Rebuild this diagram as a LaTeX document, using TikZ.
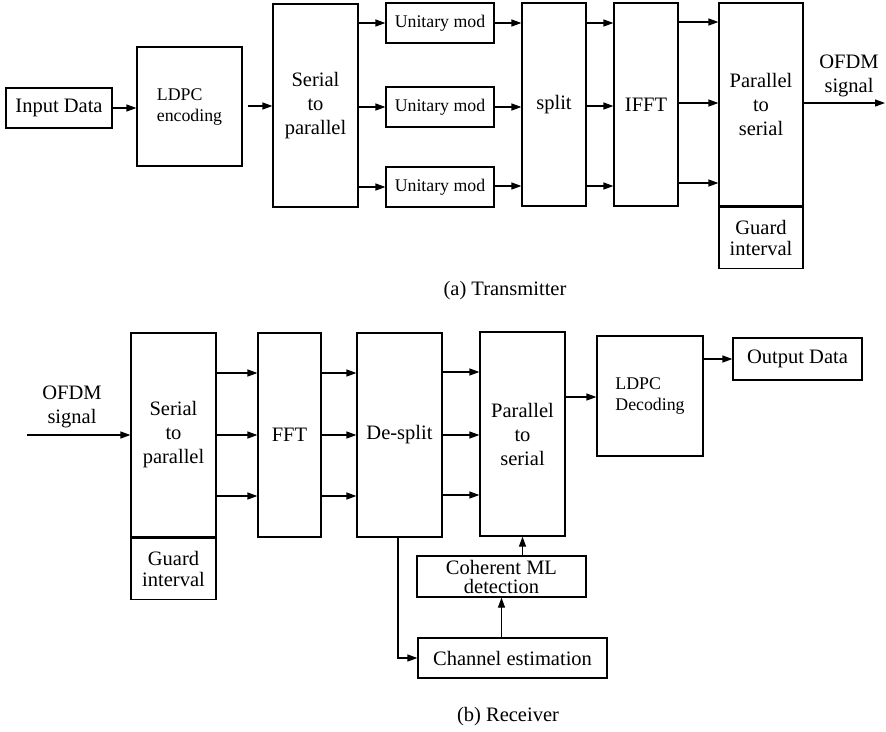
\documentclass[tikz,border=0pt]{standalone}
\usepackage{fontspec}
\setmainfont{Liberation Serif}
\usetikzlibrary{arrows.meta,calc}
\begin{document}
\begin{tikzpicture}[x=1pt,y=-1pt,
  box/.style={draw,line width=1.2pt,inner sep=0pt,align=center,font=\fontsize{20.5}{24}\selectfont},
  smallbox/.style={box,font=\fontsize{17.8}{21}\selectfont},
  lbl/.style={inner sep=0pt,align=center,font=\fontsize{20.5}{24}\selectfont},
  arr/.style={line width=1.2pt,-{Triangle[length=10pt,width=7pt]}}]
\useasboundingbox (0,0) rectangle (886,731);
% ---------------- Transmitter ----------------
\node[box,minimum width=106pt,minimum height=40pt] (in) at (59,108) {Input Data};
\node[smallbox,minimum width=105pt,minimum height=119pt] (ldpc) at (189.5,106.5)
  {\raisebox{7pt}{\begin{tabular}{@{}l@{}}LDPC\\encoding\end{tabular}}};
\node[box,minimum width=85pt,minimum height=203pt] (sp) at (315.5,105.5) {Serial\\to\\parallel};
\node[smallbox,minimum width=108pt,minimum height=40pt] (u1) at (440,23) {Unitary mod};
\node[smallbox,minimum width=108pt,minimum height=40pt] (u2) at (440,107) {Unitary mod};
\node[smallbox,minimum width=108pt,minimum height=40pt] (u3) at (440,187) {Unitary mod};
\node[box,minimum width=64pt,minimum height=203pt] (split) at (554,104.5) {split};
\node[box,minimum width=64pt,minimum height=203pt] (ifft) at (646,104.5) {IFFT};
\node[box,minimum width=84pt,minimum height=203pt] (ps) at (761,104.5) {Parallel\\to\\serial};
\node[box,minimum width=84pt,minimum height=61pt,anchor=north,font=\fontsize{20.5}{21}\selectfont] (psg) at (ps.south) {Guard\\interval};
\node[lbl] (ofdmt) at (849,76) {OFDM\\signal};
\coordinate (outt) at (885,103);
\node[lbl] (capa) at (505,291) {(a) Transmitter};

\draw[arr] (in.east) -- (in.east -| ldpc.west);
\draw[arr,shorten <=5pt] (ldpc.east |- 0,106) -- (sp.west |- 0,106);
\draw[arr] (sp.east |- u1) -- (u1.west);
\draw[arr] (sp.east |- u2) -- (u2.west);
\draw[arr] (sp.east |- u3) -- (u3.west);
\draw[arr] (u1.east) -- (u1.east -| split.west);
\draw[arr] (u2.east) -- (u2.east -| split.west);
\draw[arr] (u3.east |- 0,186) -- (split.west |- 0,186);
\draw[arr] (split.east |- 0,23) -- (ifft.west |- 0,23);
\draw[arr] (split.east |- 0,106) -- (ifft.west |- 0,106);
\draw[arr] (split.east |- 0,186) -- (ifft.west |- 0,186);
\draw[arr] (ifft.east |- 0,22) -- (ps.west |- 0,22);
\draw[arr] (ifft.east |- 0,103) -- (ps.west |- 0,103);
\draw[arr] (ifft.east |- 0,183) -- (ps.west |- 0,183);
\draw[arr] (ps.east |- outt) -- (outt);
% ---------------- Receiver ----------------
\node[lbl] (ofdmr) at (72,407) {OFDM\\signal};
\coordinate (inr) at (27,435);
\node[box,minimum width=85pt,minimum height=204pt] (rsp) at (173.5,435) {Serial\\to\\parallel};
\node[box,minimum width=85pt,minimum height=61pt,anchor=north,font=\fontsize{20.5}{21}\selectfont] (rspg) at (rsp.south) {Guard\\interval};
\node[box,minimum width=63pt,minimum height=204pt] (fft) at (289.5,435) {FFT};
\node[box,minimum width=85pt,minimum height=204pt] (ds) at (399.5,435) {De-split};
\node[box,minimum width=85pt,minimum height=204pt] (rps) at (522.5,434) {Parallel\\to\\serial};
\node[smallbox,minimum width=106pt,minimum height=120pt] (ldpcd) at (650,396)
  {\begin{tabular}{@{}l@{}}LDPC\\Decoding\end{tabular}};
\node[box,minimum width=129pt,minimum height=42pt] (outd) at (797.5,359) {Output Data};
\node[box,minimum width=169pt,minimum height=41pt,font=\fontsize{20.5}{19}\selectfont] (coh) at (501.5,576.5) {Coherent ML\\detection};
\node[box,minimum width=189pt,minimum height=40pt] (ce) at (512.5,658) {Channel estimation};
\node[lbl] (capb) at (508,717) {(b) Receiver};

\draw[arr] (inr) -- (inr -| rsp.west);
\foreach \yy in {373,435,496}{
  \draw[arr] (rsp.east |- 0,\yy) -- (fft.west |- 0,\yy);
  \draw[arr] (fft.east |- 0,\yy) -- (ds.west |- 0,\yy);
}
\draw[arr] (ds.east |- 0,372) -- (rps.west |- 0,372);
\draw[arr] (ds.east |- 0,435) -- (rps.west |- 0,435);
\draw[arr] (ds.east |- 0,495) -- (rps.west |- 0,495);
\draw[arr] (rps.east |- 0,397) -- (ldpcd.west |- 0,397);
\draw[arr] (ldpcd.east |- outd) -- (outd.west);
\draw[arr] (ds.south -| 398,0) |- (ce.west);
\draw[arr] (coh.north -| rps.south) -- (rps.south);
\draw[arr] (ce.north -| coh.south) -- (coh.south);
\end{tikzpicture}
\end{document}
